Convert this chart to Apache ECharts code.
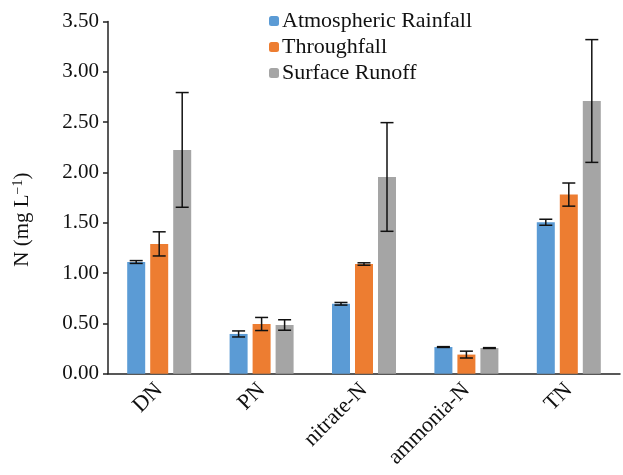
<!DOCTYPE html>
<html>
<head>
<meta charset="utf-8">
<title>N concentrations</title>
<script src="https://cdn.jsdelivr.net/npm/echarts@6/dist/echarts.min.js"></script>
<style>
  html, body { margin: 0; padding: 0; background: #fff; }
  #main { width: 623px; height: 475px; }
</style>
</head>
<body>
<div id="main"></div>
<script>
// data
var categories = ['DN', 'PN', 'nitrate-N', 'ammonia-N', 'TN'];
var seriesNames = ['Atmospheric Rainfall', 'Throughfall', 'Surface Runoff'];
var rainfall = [1.11, 0.395, 0.695, 0.265, 1.505];
var rainfallErr = [0.014, 0.03, 0.013, 0.004, 0.03];
var throughfall = [1.29, 0.494, 1.09, 0.19, 1.78];
var throughfallErr = [0.12, 0.065, 0.012, 0.034, 0.115];
var runoff = [2.224, 0.484, 1.955, 0.255, 2.71];
var runoffErr = [0.57, 0.052, 0.54, 0.004, 0.61];
var yTicks = [0, 0.5, 1, 1.5, 2, 2.5, 3, 3.5];

var colors = ['#5B9BD5', '#ED7D31', '#A5A5A5'];
var values = [rainfall, throughfall, runoff];
var errors = [rainfallErr, throughfallErr, runoffErr];

var BAR_W = 18, BAR_GAP = 5;
var font = 'Liberation Serif';

var chart = echarts.init(document.getElementById('main'));

var series = [];
values.forEach(function (vals, s) {
  series.push({
    name: seriesNames[s],
    type: 'bar',
    data: vals,
    barWidth: BAR_W,
    barGap: (BAR_GAP / BAR_W * 100) + '%',
    itemStyle: { color: colors[s] }
  });
});
// error bars
values.forEach(function (vals, s) {
  var errData = vals.map(function (v, i) {
    return [i, v - errors[s][i], v + errors[s][i]];
  });
  series.push({
    type: 'custom',
    silent: true,
    z: 10,
    data: errData,
    renderItem: function (params, api) {
      var lo = api.coord([api.value(0), api.value(1)]);
      var hi = api.coord([api.value(0), api.value(2)]);
      var off = (s - 1) * (BAR_W + BAR_GAP);
      var x = lo[0] + off;
      var cap = 6.5;
      var st = { stroke: '#111', lineWidth: 1.5 };
      return {
        type: 'group',
        children: [
          { type: 'line', shape: { x1: x, y1: lo[1], x2: x, y2: hi[1] }, style: st },
          { type: 'line', shape: { x1: x - cap, y1: lo[1], x2: x + cap, y2: lo[1] }, style: st },
          { type: 'line', shape: { x1: x - cap, y1: hi[1], x2: x + cap, y2: hi[1] }, style: st }
        ]
      };
    }
  });
});

var option = {
  animation: false,
  grid: { left: 108, right: 3, top: 21.5, bottom: 101.3, containLabel: false },
  legend: {
    data: seriesNames,
    orient: 'vertical',
    left: 264,
    top: 5,
    itemWidth: 10,
    itemHeight: 10,
    itemGap: 4,
    textStyle: { fontFamily: font, fontSize: 22, color: '#111', padding: [0, 0, 0, -2] }
  },
  xAxis: {
    type: 'category',
    data: categories,
    axisLine: { lineStyle: { color: '#222', width: 1.5 } },
    axisTick: { show: false },
    axisLabel: {
      interval: 0,
      rotate: 45,
      margin: 13,
      fontFamily: font,
      fontSize: 22,
      color: '#111'
    }
  },
  yAxis: {
    type: 'value',
    min: yTicks[0],
    max: yTicks[yTicks.length - 1],
    interval: 0.5,
    name: 'N (mg L{sup|−1})',
    nameLocation: 'middle',
    nameGap: 75,
    nameTextStyle: {
      fontFamily: font,
      fontSize: 21,
      color: '#111',
      padding: [0, 44, 0, 0],
      rich: {
        sup: { fontFamily: font, fontSize: 14, color: '#111', verticalAlign: 'top', padding: [0, 0, 8, 0] }
      }
    },
    axisLine: { show: true, lineStyle: { color: '#222', width: 1.5 } },
    axisTick: { show: true, length: 5, lineStyle: { color: '#222', width: 1.5 } },
    splitLine: { show: false },
    axisLabel: {
      margin: 9,
      fontFamily: font,
      fontSize: 21,
      color: '#111',
      formatter: function (v) { return v.toFixed(2); }
    }
  },
  series: series
};

chart.setOption(option);
</script>
</body>
</html>
